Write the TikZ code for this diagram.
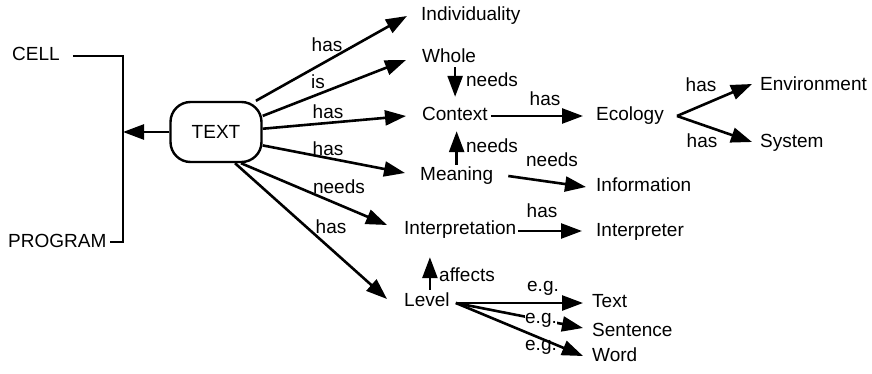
\documentclass[tikz,border=0pt]{standalone}
\usepackage{fontspec}
\setmainfont{Liberation Sans}
\usetikzlibrary{arrows.meta,calc}
\begin{document}
\begin{tikzpicture}[x=1pt,y=-1pt,
  font=\fontsize{19}{22}\selectfont,
  word/.style={inner sep=0pt, anchor=west, text height=14pt, text depth=4pt},
  rel/.style={inner sep=1pt},
  link/.style={line width=2.6pt, -{Triangle[length=21pt,width=15pt]}},
  plain/.style={line width=2.4pt}]
\useasboundingbox (0,0) rectangle (872,374);

% central box
\node[draw, line width=2.4pt, rounded corners=20pt, minimum width=91pt,
      minimum height=60pt, inner sep=0pt] (T) at (216,132) {TEXT};

% bracket joining CELL and PROGRAM
\node[word] (cell) at (12,56) {CELL};
\node[word] (prog) at (8,242) {PROGRAM};
\coordinate (bt) at (123,56);
\coordinate (bb) at (123,242);
\coordinate (bm) at (123,132);
\draw[plain] ([xshift=13pt]cell.east) -- (bt) -- (bb) -- ([xshift=3pt]prog.east);
\draw[link] (T.west) -- (bm);

% concept nodes
\node[word] (ind)  at (421,16)  {Individuality};
\node[word] (whole) at (422,58) {Whole};
\node[word] (ctx)  at (422,116) {Context};
\node[word] (mean) at (420,176) {Meaning};
\node[word] (interp) at (404,229) {Interpretation};
\node[word] (level) at (404,301) {Level};
\node[word] (eco)  at (596,116) {Ecology};
\node[word] (env)  at (760,86)  {Environment};
\node[word] (sys)  at (760,143) {System};
\node[word] (info) at (596,186) {Information};
\node[word] (iptr) at (596,231) {Interpreter};
\node[word] (txt)  at (592,302) {Text};
\node[word] (sen)  at (592,331) {Sentence};
\node[word] (wrd)  at (592,356) {Word};

% links leaving TEXT
\draw[link] (T.38) -- ([xshift=-14pt]ind.west);
\draw[link] (T.19) -- ([xshift=-16pt,yshift=-2pt]whole.west);
\draw[link] (T.4) -- ([xshift=-16pt]ctx.west);
\draw[link] (T.-16) -- ([xshift=-15pt,yshift=3pt]mean.west);
\draw[link] ([xshift=25pt]T.south) -- ([xshift=-17pt,yshift=4pt]interp.west);
\draw[link] ([xshift=19pt]T.south) -- ([xshift=-17pt,yshift=2pt]level.west);

% vertical links
\coordinate (wd) at ([xshift=6pt]whole.south);
\draw[link] (wd) -- ([yshift=10pt]wd |- ctx.north);
\coordinate (mu) at ([yshift=2pt]mean.north);
\draw[link] (mu) -- ([yshift=-6pt]mu |- ctx.south);
\coordinate (lu) at ([xshift=3pt,yshift=2pt]level.north);
\draw[link] (lu) -- ([yshift=-19pt]lu |- interp.south);

% links to the right
\draw[link] ([xshift=3pt]ctx.east) -- ([xshift=-13pt]eco.west);
\coordinate (ev) at ([xshift=13pt]eco.east);
\draw[link] (ev) -- ([xshift=-8pt,yshift=2pt]env.west);
\draw[link] (ev) -- ([xshift=-8pt,yshift=1pt]sys.west);
\draw[link] ([xshift=15pt]mean.east) -- ([xshift=-10pt,yshift=-1pt]info.west);
\draw[link] ([xshift=2pt,yshift=-2pt]interp.east) -- ([xshift=-14pt]iptr.west);
\coordinate (lv) at ([xshift=6pt,yshift=-2pt]level.east);
\draw[link] (lv) -- ([xshift=-9pt,yshift=-1pt]txt.west);
\draw[link] (lv) -- ([xshift=-9pt,yshift=3pt]sen.west);
\draw[link] (lv) -- ([xshift=-9pt]wrd.west);

% relation labels
\node[rel] (r1) at (327,45) {has};
\node[rel] (r2) at (318,82) {is};
\node[rel] (r3) at (328,112) {has};
\node[rel] (r4) at (328,149) {has};
\node[rel] (r5) at (339,187) {needs};
\node[rel] (r6) at (331,227) {has};
\node[rel] (r7) at (492,80) {needs};
\node[rel] (r8) at (492,146) {needs};
\node[rel] (r9) at (545,99) {has};
\node[rel] (r10) at (701,85) {has};
\node[rel] (r11) at (702,141) {has};
\node[rel] (r12) at (552,160) {needs};
\node[rel] (r13) at (542,211) {has};
\node[rel] (r14) at (467,275) {affects};
\node[rel] (r15) at (543,288) {e.g.};
\node[rel, fill=white, inner sep=0pt] (r16) at (541,320) {e.g.};
\node[rel] (r17) at (541,347) {e.g.};
\end{tikzpicture}
\end{document}
